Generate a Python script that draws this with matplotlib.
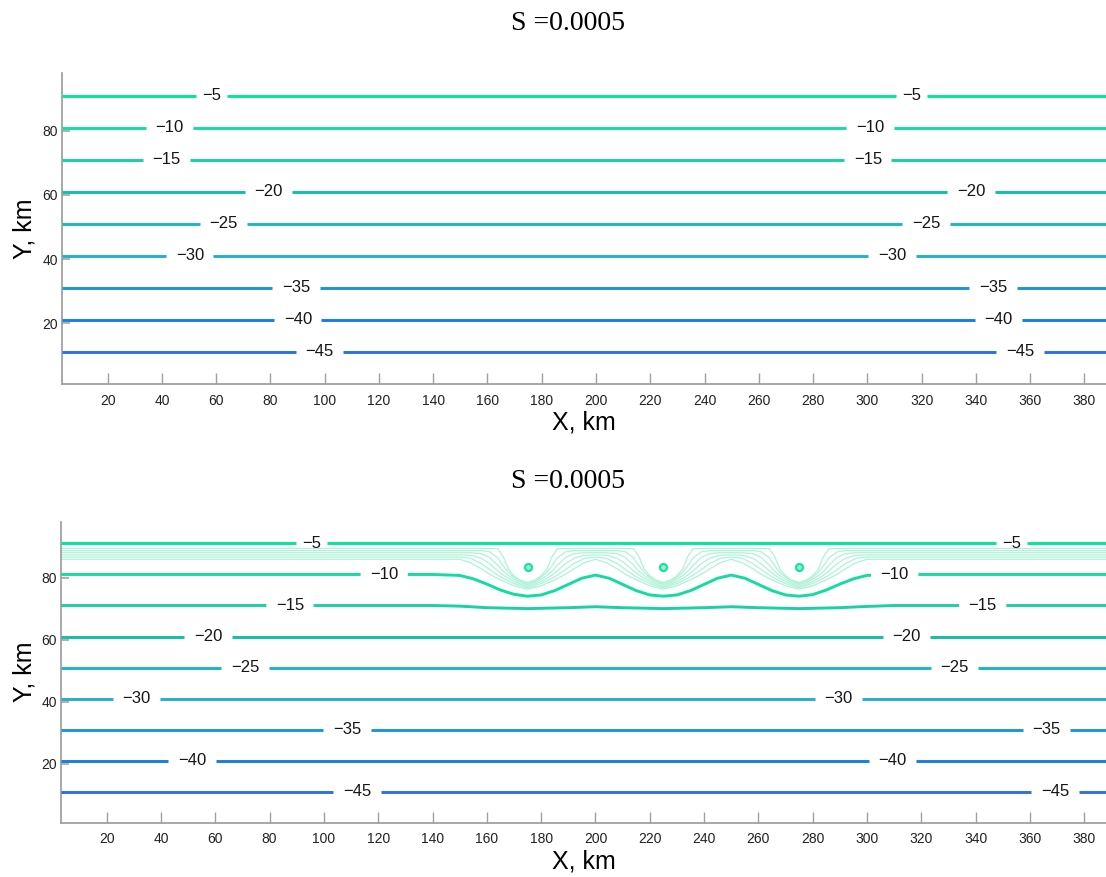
import numpy as np
import matplotlib
matplotlib.use("Agg")
import matplotlib.pyplot as plt

plt.rcParams['font.family'] = ['Liberation Sans', 'DejaVu Sans']

# ---- data ----
LEVELS = [-5, -10, -15, -20, -25, -30, -35, -40, -45]
LEVEL_Y = [91, 81, 71, 61, 51, 41, 31, 21, 11]
X_MIN, X_MAX = 3.2, 388.0

LABEL_X_TOP = [[58.4, 316.4], [42.9, 301.0], [41.7, 300.2], [79.2, 338.2], [62.6, 321.6],
               [50.3, 309.1], [89.4, 346.3], [90.1, 348.2], [98.2, 356.3]]
LABEL_X_BOTTOM = [[95.6, 353.3], [122.2, 310.2], [87.5, 342.6], [57.3, 314.6], [70.9, 332.3],
                  [31.1, 289.6], [108.5, 366.2], [51.4, 309.4], [112.2, 369.2]]

# bottom panel: the -10 and -15 contours bend between x=145 and x=310
WAVE10_X = [140, 150, 155, 160, 165, 170, 175, 180, 185, 190, 195, 200, 205, 210, 215, 220, 225,
            230, 235, 240, 245, 250, 255, 260, 265, 270, 275, 280, 285, 290, 295, 300, 310]
WAVE10_Y = [81.0, 80.7, 79.6, 77.9, 76.0, 74.6, 74.0, 74.4, 75.8, 77.8, 79.8, 80.8, 79.8, 77.8, 75.8, 74.4, 74.0,
            74.4, 75.8, 77.8, 79.8, 80.8, 79.8, 77.8, 75.8, 74.4, 74.0, 74.5, 76.0, 77.9, 79.6, 80.7, 81.0]
WAVE15_X = [140, 150, 160, 175, 190, 200, 210, 225, 240, 250, 260, 275, 290, 300, 310]
WAVE15_Y = [71.0, 70.8, 70.3, 70.0, 70.3, 70.6, 70.3, 70.0, 70.3, 70.6, 70.3, 70.0, 70.3, 70.7, 71.0]

# sinks and the thin contours bending round them (left half of one loop, mirrored)
DOT_X = [175, 225, 275]
DOT_Y = 83.5
THIN_DX = [-25, -21, -17, -14, -11, -9, -7, -5, -3, 0]
THIN_Y = [
    [89.4, 89.4, 89.4, 89.4, 89.3, 86.8, 82.6, 80.6, 79.3, 78.4],
    [88.7, 88.7, 88.7, 88.3, 86.4, 83.8, 81.6, 80.1, 79.0, 78.0],
    [88.0, 88.0, 87.7, 86.5, 84.0, 82.0, 80.6, 79.5, 78.5, 77.6],
    [87.3, 87.2, 86.2, 84.5, 82.2, 80.8, 79.7, 78.8, 78.0, 77.1],
    [86.6, 86.2, 84.5, 82.6, 80.8, 79.8, 78.9, 78.1, 77.5, 76.7],
    [85.9, 84.8, 82.8, 81.1, 79.7, 78.9, 78.1, 77.4, 76.9, 76.3],
]

X_TICKS = list(range(20, 381, 20))
Y_TICKS = [20, 40, 60, 80]
TITLE = "S =0.0005"

# ---- styles ----
LINE_COLORS = ['#00e89a', '#12dca0', '#1ad0a6', '#10bfa8', '#1cb6bf',
               '#24aed2', '#1a96d8', '#167ee0', '#2c70e6']
THIN_COLOR = '#aef3d8'
HALF_GAP = {2: 5.7, 3: 8.7}


def broken(xs, ys, gaps):
    xs = np.asarray(xs, float)
    ys = np.asarray(ys, float)
    extra = []
    for a, b in gaps:
        extra += [a, b, (a + b) / 2]
    nx_ = np.unique(np.concatenate([xs, extra]))
    ny_ = np.interp(nx_, xs, ys)
    for a, b in gaps:
        ny_[(nx_ > a + 1e-9) & (nx_ < b - 1e-9)] = np.nan
    return nx_, ny_


def style_axes(ax):
    ax.set_xlim(X_MIN, X_MAX)
    ax.set_ylim(1, 98)
    ax.set_xticks(X_TICKS)
    ax.set_yticks(Y_TICKS)
    for s in ['top', 'right']:
        ax.spines[s].set_visible(False)
    for s in ['left', 'bottom']:
        ax.spines[s].set_color('#9a9a9a')
        ax.spines[s].set_linewidth(1.2)
    ax.tick_params(axis='x', direction='in', length=8, width=1, color='#a0a0a0',
                   labelsize=10, labelcolor='#222222', pad=7)
    ax.tick_params(axis='y', direction='in', length=6, width=1.4, color='#b0b0b0',
                   labelsize=10, labelcolor='#222222', pad=3)


def draw_level(ax, k, xs, ys, label_xs):
    txt = '\u2212' + str(abs(LEVELS[k]))
    hg = HALF_GAP[len(txt)]
    gaps = [(lx - hg, lx + hg) for lx in label_xs]
    bx, by = broken(xs, ys, gaps)
    ax.plot(bx, by, color=LINE_COLORS[k], lw=2.1, solid_capstyle='butt', zorder=3)
    for lx in label_xs:
        ax.text(lx, np.interp(lx, xs, ys), txt, ha='center', va='center',
                fontsize=12, color='#151515', zorder=4)


fig = plt.figure(figsize=(11.06, 8.77), dpi=100)
ax1 = fig.add_axes([0.0561, 0.5622, 0.944, 0.3543])
ax2 = fig.add_axes([0.0552, 0.0619, 0.9448, 0.3432])

# top panel: straight contours
for k in range(len(LEVELS)):
    draw_level(ax1, k, [X_MIN, X_MAX], [LEVEL_Y[k]] * 2, LABEL_X_TOP[k])

# bottom panel
for k in range(len(LEVELS)):
    if LEVELS[k] == -10:
        xs = [X_MIN] + WAVE10_X + [X_MAX]
        ys = [LEVEL_Y[k]] + WAVE10_Y + [LEVEL_Y[k]]
    elif LEVELS[k] == -15:
        xs = [X_MIN] + WAVE15_X + [X_MAX]
        ys = [LEVEL_Y[k]] + WAVE15_Y + [LEVEL_Y[k]]
    else:
        xs = [X_MIN, X_MAX]
        ys = [LEVEL_Y[k]] * 2
    draw_level(ax2, k, xs, ys, LABEL_X_BOTTOM[k])

dx_full = THIN_DX + [-d for d in THIN_DX[-2::-1]]
for prof in THIN_Y:
    y_full = prof + prof[-2::-1]
    xs = [X_MIN]
    ys = [prof[0]]
    for xc in DOT_X:
        xs += [xc + d for d in dx_full]
        ys += y_full
    xs.append(X_MAX)
    ys.append(prof[0])
    ax2.plot(xs, ys, color=THIN_COLOR, lw=0.9, zorder=2)

ax2.plot(DOT_X, [DOT_Y] * len(DOT_X), 'o', ms=5, mfc='#9ff0d2', mec='#14e2a0', mew=1.6, zorder=3)

for ax in (ax1, ax2):
    style_axes(ax)

# titles and axis labels
for ty in (0.973, 0.4515):
    fig.text(0.514, ty, TITLE, ha='center', va='center', fontsize=20, family='Liberation Serif')
for xy in (0.5101, 0.0099):
    fig.text(0.528, xy, 'X, km', ha='center', va='baseline', fontsize=18)
for yy in (0.7395, 0.2338):
    fig.text(0.0226, yy, 'Y, km', ha='center', va='center', rotation=90, fontsize=18)

fig.savefig('out.png', dpi=100)
